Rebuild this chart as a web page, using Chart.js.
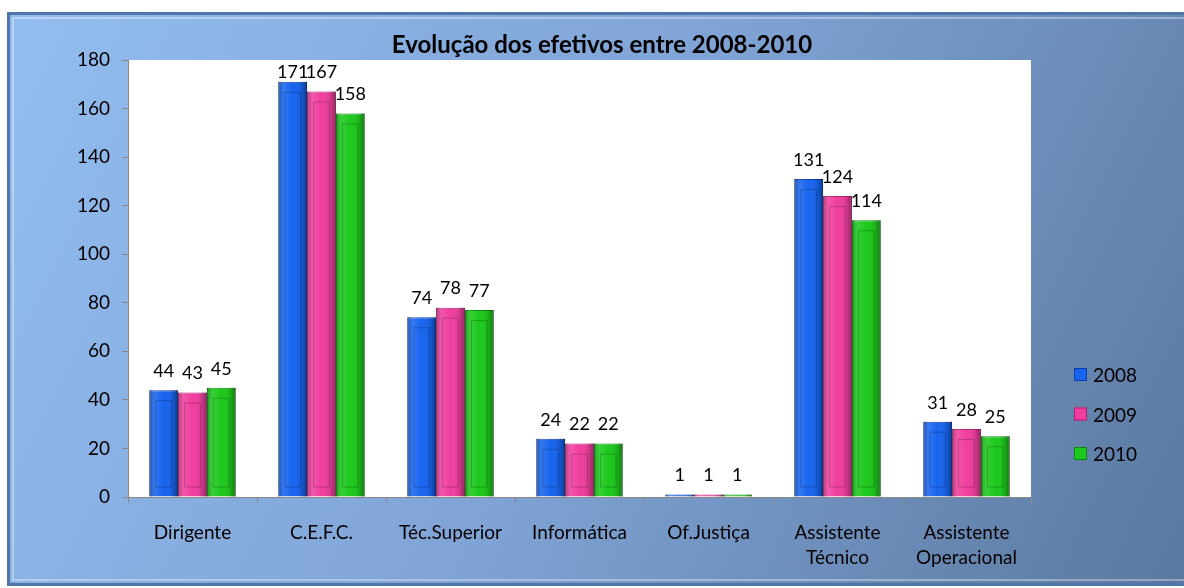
<!DOCTYPE html>
<html>
<head>
<meta charset="utf-8">
<script src="https://cdn.jsdelivr.net/npm/chart.js@4"></script>
<style>
  html, body { margin: 0; padding: 0; background: #fff; }
  #wrap { width: 1184px; height: 588px; }
</style>
</head>
<body>
<div id="wrap"><canvas id="efetivos" width="1184" height="588"></canvas></div>
<script>
// Chart data
const categories = ['Dirigente', 'C.E.F.C.', 'Téc.Superior', 'Informática', 'Of.Justiça',
    ['Assistente', 'Técnico'], ['Assistente', 'Operacional']];
const years = ['2008', '2009', '2010'];
const values2008 = [44, 171, 74, 24, 1, 131, 31];
const values2009 = [43, 167, 78, 22, 1, 124, 28];
const values2010 = [45, 158, 77, 22, 1, 114, 25];
const yTicks = [0, 20, 40, 60, 80, 100, 120, 140, 160, 180];
const titleText = 'Evolução dos efetivos entre 2008-2010';

const FONT = 'Lato, "Open Sans", sans-serif';
const colors = [
    { fill: '#1764ee', dark: '#0b3ca8' },
    { fill: '#f03e9e', dark: '#b51f72' },
    { fill: '#1cc81c', dark: '#0a8c0a' }
];

// Frame, gradient background and white plot area
const backdrop = {
    id: 'backdrop',
    beforeDraw(chart) {
        const { ctx, chartArea: a } = chart;
        ctx.save();
        ctx.fillStyle = '#ffffff';
        ctx.fillRect(0, 0, chart.width, chart.height);
        const g = ctx.createLinearGradient(7, 12, 1184, 586);
        g.addColorStop(0, '#93bdf0');
        g.addColorStop(0.5, '#7fa3d4');
        g.addColorStop(1, '#5a789f');
        ctx.fillStyle = g;
        ctx.fillRect(7, 12, 1177, 574);
        ctx.strokeStyle = '#4f76a6';
        ctx.lineWidth = 3;
        ctx.strokeRect(8.5, 13.5, 1180, 571);
        ctx.strokeStyle = 'rgba(255,255,255,0.35)';
        ctx.lineWidth = 2;
        ctx.strokeRect(13, 18, 1175, 562);
        ctx.fillStyle = '#ffffff';
        ctx.fillRect(a.left, a.top, a.right - a.left, a.bottom - a.top);
        ctx.restore();
    }
};

// Bevel look on bars, value labels, title and legend
const decorations = {
    id: 'decorations',
    afterDatasetsDraw(chart) {
        const ctx = chart.ctx;
        const top = chart.chartArea.top;
        ctx.save();
        chart.data.datasets.forEach((ds, i) => {
            const meta = chart.getDatasetMeta(i);
            meta.data.forEach((bar, j) => {
                const left = bar.x - bar.width / 2;
                const h = bar.base - bar.y;
                const g = ctx.createLinearGradient(left, 0, left + bar.width, 0);
                g.addColorStop(0, 'rgba(0,0,0,0.3)');
                g.addColorStop(0.2, 'rgba(255,255,255,0.12)');
                g.addColorStop(0.5, 'rgba(255,255,255,0)');
                g.addColorStop(0.8, 'rgba(0,0,0,0.1)');
                g.addColorStop(1, 'rgba(0,0,0,0.4)');
                ctx.fillStyle = g;
                ctx.fillRect(left, bar.y, bar.width, h);
                if (h > 20) {
                    ctx.strokeStyle = 'rgba(0,0,0,0.2)';
                    ctx.lineWidth = 1;
                    ctx.strokeRect(left + 6.5, bar.y + 10.5, bar.width - 13, h - 20);
                }
                ctx.fillStyle = '#000';
                ctx.font = '18px ' + FONT;
                ctx.textAlign = 'center';
                ctx.textBaseline = 'bottom';
                ctx.fillText(String(ds.data[j]), bar.x, Math.max(bar.y - 10, top + 21));
            });
        });

        ctx.font = 'bold 24px ' + FONT;
        ctx.fillStyle = '#000';
        ctx.textAlign = 'center';
        ctx.textBaseline = 'middle';
        ctx.fillText(titleText, 602, 45);

        ctx.font = '19px ' + FONT;
        ctx.textAlign = 'left';
        chart.data.datasets.forEach((ds, i) => {
            const cy = 375 + i * 39.5;
            ctx.fillStyle = colors[i].fill;
            ctx.fillRect(1074, cy - 7, 13, 13);
            ctx.strokeStyle = colors[i].dark;
            ctx.strokeRect(1074.5, cy - 6.5, 12, 12);
            ctx.fillStyle = '#000';
            ctx.fillText(ds.label, 1093, cy + 1);
        });
        ctx.restore();
    }
};

const datasets = [values2008, values2009, values2010].map((vals, i) => ({
    label: years[i],
    data: vals,
    backgroundColor: colors[i].fill,
    borderColor: colors[i].dark,
    borderWidth: 1,
    categoryPercentage: 0.67,
    barPercentage: 1
}));

new Chart(document.getElementById('efetivos'), {
    type: 'bar',
    data: { labels: categories, datasets: datasets },
    plugins: [backdrop, decorations],
    options: {
        responsive: false,
        animation: false,
        layout: { padding: { top: 60, right: 153, left: 0, bottom: 0 } },
        plugins: {
            legend: { display: false },
            title: { display: false },
            tooltip: { enabled: false }
        },
        scales: {
            x: {
                grid: { offset: true, drawOnChartArea: false, tickLength: 6, color: '#888' },
                border: { color: '#888' },
                ticks: { color: '#000', font: { family: FONT, size: 19, lineHeight: 1.3 }, padding: 18, maxRotation: 0, autoSkip: false },
                afterFit(scale) { scale.height = 91; }
            },
            y: {
                min: 0,
                max: 180,
                afterBuildTicks(scale) { scale.ticks = yTicks.map(v => ({ value: v })); },
                grid: { drawOnChartArea: false, tickLength: 6, color: '#888' },
                border: { color: '#888' },
                ticks: { color: '#000', font: { family: FONT, size: 19 }, padding: 12 },
                afterFit(scale) { scale.width = 128; }
            }
        }
    }
});
</script>
</body>
</html>
